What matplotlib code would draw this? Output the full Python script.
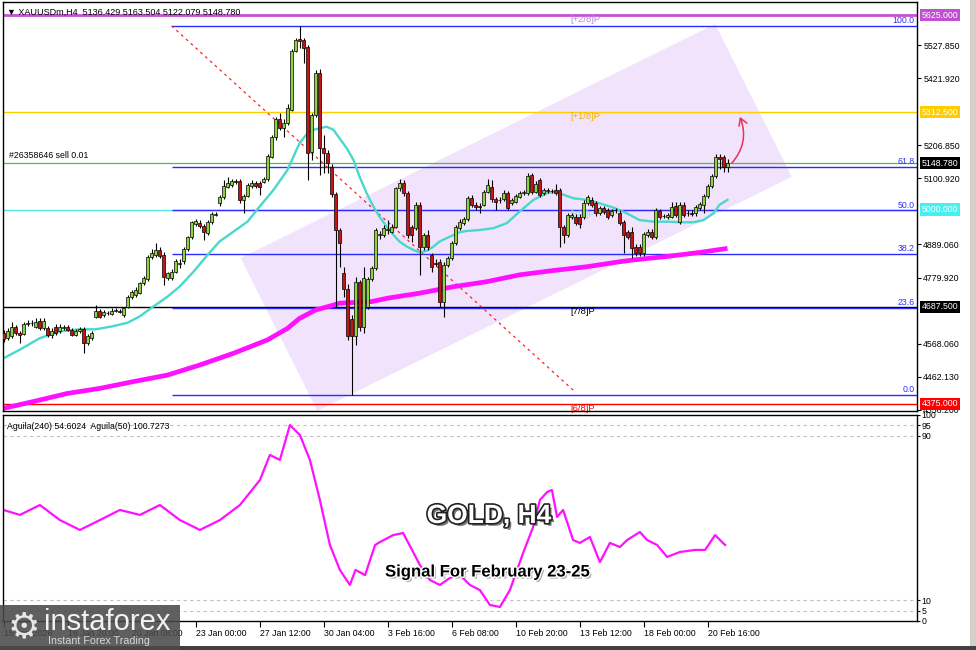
import matplotlib
matplotlib.use('Agg')
import matplotlib.pyplot as plt
import matplotlib.patheffects as pe
import matplotlib.transforms as mtransforms
from matplotlib.patches import Polygon, Rectangle
import numpy as np

plt.rcParams['font.family'] = ['Liberation Sans', 'DejaVu Sans']

# ---------------- data ----------------
opens = [4602, 4586, 4592, 4621, 4602, 4600, 4632, 4636, 4624, 4642,
         4618, 4618, 4597, 4624, 4608, 4620, 4622, 4613, 4597, 4608,
         4615, 4572, 4586, 4656, 4674, 4661, 4666, 4664, 4675, 4674,
         4661, 4686, 4718, 4725, 4733, 4763, 4776, 4846, 4854, 4870,
         4854, 4779, 4779, 4800, 4826, 4833, 4872, 4911, 4953, 4956,
         4947, 4924, 4961, 4983, 5020, 5039, 5073, 5079, 5090, 5092,
         5031, 5044, 5076, 5084, 5086, 5089, 5097, 5170, 5234, 5291,
         5261, 5277, 5320, 5510, 5547, 5545, 5523, 5186, 5304, 5438,
         5197, 5181, 5138, 5050, 4934, 4795, 4744, 4647, 4592, 4768,
         4624, 4688, 4776, 4811, 4918, 4918, 4934, 4929, 4945, 5068,
         5084, 5052, 4945, 4940, 5015, 4881, 4918, 4854, 4828, 4832,
         4704, 4822, 4843, 4891, 4940, 4956, 4968, 5036, 5015, 5010,
         5015, 5057, 5073, 5033, 5030, 5033, 5054, 5020, 5025, 5041,
         5054, 5054, 5111, 5057, 5095, 5052, 5060, 5058, 5063, 5063,
         4945, 4918, 4977, 4977, 4977, 4977, 5022, 5031, 5020, 4988,
         5004, 4998, 4982, 4998, 4990, 4961, 4929, 4929, 4881, 4881,
         4859, 4918, 4929, 4913, 4996, 4980, 4975, 4977, 5011, 4961,
         5015, 4990, 4988, 4988, 5004, 5015, 5043, 5076, 5108, 5170,
         5168, 5136.429]
closes = [4583, 4608, 4624, 4602, 4598, 4632, 4636, 4634, 4640, 4618,
          4642, 4597, 4608, 4602, 4624, 4622, 4614, 4597, 4608, 4615,
          4572, 4594, 4602, 4674, 4656, 4672, 4668, 4675, 4676, 4672,
          4683, 4720, 4736, 4741, 4763, 4779, 4848, 4859, 4870, 4849,
          4782, 4795, 4800, 4836, 4828, 4872, 4911, 4959, 4963, 4947,
          4929, 4961, 4986, 4985, 5039, 5076, 5086, 5092, 5089, 5031,
          5044, 5079, 5084, 5076, 5073, 5097, 5172, 5234, 5290, 5261,
          5277, 5325, 5510, 5545, 5543, 5518, 5181, 5304, 5438, 5197,
          5181, 5148, 5050, 4934, 4891, 4744, 4592, 4592, 4768, 4624,
          4779, 4776, 4811, 4934, 4920, 4940, 4936, 4945, 5068, 5084,
          5052, 4918, 4918, 5015, 4881, 4918, 4881, 4816, 4826, 4704,
          4822, 4843, 4891, 4943, 4961, 4968, 5036, 5015, 5007, 5009,
          5057, 5079, 5033, 5025, 5031, 5054, 5004, 5031, 5044, 5054,
          5055, 5108, 5057, 5082, 5047, 5063, 5061, 5059, 5052, 4945,
          4918, 4982, 4982, 4956, 4954, 5022, 5041, 5015, 4988, 5004,
          4993, 4977, 4996, 4999, 4956, 4918, 4913, 4875, 4859, 4859,
          4921, 4929, 4913, 4999, 4977, 4979, 4982, 5009, 4982, 5015,
          4982, 4989, 4987, 5007, 5018, 5043, 5076, 5108, 5168, 5161,
          5138, 5148.780]
highs = [4613, 4618, 4640, 4629, 4610, 4640, 4645, 4645, 4650, 4650,
         4652, 4625, 4618, 4632, 4632, 4630, 4630, 4620, 4615, 4622,
         4622, 4600, 4608, 4693, 4680, 4678, 4674, 4682, 4683, 4680,
         4688, 4724, 4742, 4750, 4768, 4786, 4853, 4873, 4891, 4880,
         4864, 4800, 4808, 4842, 4840, 4878, 4916, 4964, 4970, 4966,
         4955, 4966, 4992, 4992, 5045, 5095, 5106, 5098, 5098, 5098,
         5050, 5084, 5095, 5092, 5092, 5103, 5178, 5240, 5297, 5310,
         5290, 5339, 5516, 5550, 5590, 5552, 5530, 5310, 5448, 5450,
         5240, 5190, 5145, 5055, 4940, 4816, 4760, 4660, 4784, 4775,
         4816, 4784, 4818, 4940, 4932, 4950, 4966, 4955, 5073, 5097,
         5095, 5060, 4950, 5023, 5023, 4925, 4935, 4860, 4840, 4840,
         4830, 4850, 4898, 4950, 4970, 4976, 5042, 5046, 5023, 5020,
         5063, 5097, 5095, 5040, 5040, 5062, 5060, 5037, 5050, 5060,
         5062, 5118, 5118, 5090, 5100, 5070, 5068, 5065, 5082, 5070,
         4950, 4988, 4990, 4985, 4985, 5030, 5048, 5040, 5028, 5012,
         5010, 5004, 5002, 5006, 5000, 4966, 4935, 4945, 4890, 4888,
         4928, 4936, 4936, 5006, 5002, 4986, 4990, 5025, 5025, 5025,
         5025, 5000, 4998, 5015, 5025, 5050, 5082, 5114, 5178, 5178,
         5176, 5163.504]
lows = [4575, 4581, 4586, 4597, 4570, 4597, 4627, 4627, 4618, 4612,
        4612, 4590, 4586, 4597, 4602, 4614, 4608, 4592, 4592, 4602,
        4538, 4565, 4580, 4650, 4650, 4656, 4660, 4660, 4670, 4667,
        4656, 4682, 4712, 4720, 4728, 4756, 4771, 4840, 4848, 4844,
        4757, 4772, 4773, 4795, 4811, 4826, 4866, 4906, 4948, 4940,
        4902, 4918, 4955, 4978, 5012, 5033, 5068, 5073, 5082, 5020,
        4990, 5039, 5070, 5070, 5047, 5084, 5092, 5164, 5222, 5255,
        5234, 5272, 5315, 5505, 5520, 5470, 5095, 5160, 5298, 5111,
        5116, 5116, 5040, 4688, 4816, 4720, 4580, 4404, 4565, 4610,
        4602, 4680, 4770, 4805, 4905, 4912, 4920, 4924, 4940, 5060,
        5044, 4910, 4895, 4934, 4790, 4870, 4870, 4800, 4818, 4688,
        4656, 4816, 4838, 4886, 4934, 4950, 4962, 5008, 5000, 4988,
        5010, 5052, 5025, 5000, 5022, 5028, 4998, 5014, 5020, 5036,
        5048, 5048, 5050, 5052, 5040, 5046, 5054, 5052, 5046, 4880,
        4892, 4912, 4970, 4950, 4940, 4970, 5015, 5008, 4980, 4982,
        4986, 4970, 4975, 4990, 4950, 4859, 4905, 4843, 4852, 4850,
        4852, 4912, 4906, 4906, 4970, 4972, 4970, 4972, 4976, 4955,
        4975, 4980, 4980, 4980, 4998, 4988, 5038, 5070, 5102, 5130,
        5120, 5122.079]

# fast moving average (cyan): bar position, price
ma_fast_x = [0, 4, 9, 14, 19, 23, 27, 31, 34, 38, 41, 44, 47.5, 51, 54, 57.5, 61, 64,
             67.5, 71, 72.5, 74, 76, 77.5, 79, 80.8, 82.5, 84, 85.8, 87.5, 89, 90.8,
             92.5, 94, 95.8, 97.5, 99, 100.8, 102.5, 104, 105.8, 107.5, 109, 110.8,
             112.5, 114, 115.8, 119, 122.5, 125.8, 129, 132.5, 135.8, 137.5, 139,
             142.5, 145.8, 149, 152.5, 155.8, 159, 162.5, 165.8, 169, 172.5, 175,
             177.5, 179, 181]
ma_fast_y = [4522, 4549, 4586, 4608, 4615, 4615, 4624, 4636, 4656, 4693, 4720, 4752,
             4800, 4854, 4897, 4929, 4961, 5009, 5063, 5127, 5170, 5213, 5245, 5256,
             5261, 5266, 5256, 5229, 5197, 5159, 5106, 5052, 5009, 4977, 4945, 4918,
             4897, 4881, 4870, 4862, 4867, 4881, 4897, 4908, 4918, 4927, 4931, 4934,
             4940, 4956, 4993, 5031, 5052, 5057, 5052, 5036, 5031, 5020, 5006, 4988,
             4966, 4961, 4961, 4959, 4959, 4966, 4988, 5015, 5031]
# slow moving average (magenta)
ma_slow_x = [0, 7.5, 16, 24, 32.5, 41, 49, 57.5, 66, 71, 74, 78, 82.5, 84, 92, 96,
             104, 112.5, 120.8, 129, 137.5, 145.8, 154, 157.5, 165.8, 174, 181]
ma_slow_y = [4361, 4383, 4409, 4425, 4447, 4468, 4500, 4538, 4581, 4618, 4650, 4677,
             4693, 4699, 4704, 4715, 4731, 4752, 4768, 4790, 4804, 4816, 4832, 4838,
             4849, 4862, 4875]

# Aguila oscillator (lower pane)
osc_x = [0, 4.1, 9.1, 14.1, 19.1, 24.1, 29.1, 34.1, 39.1, 44.1, 49.1, 54.1, 59.1, 64.1,
         66.6, 69.1, 71.6, 74.1, 76.6, 79.1, 81.6, 84.1, 86.6, 88, 90.4, 92.9, 94.1,
         97.4, 99.9, 102.4, 104.1, 106.6, 109.1, 111.6, 114.1, 116.6, 119.1, 121.6,
         124.1, 126.6, 129.9, 132.4, 134.1, 135.9, 137.1, 138.4, 139.9, 142.4, 144.1,
         146.6, 149.1, 151.6, 154.1, 155.9, 159.1, 160.9, 163.4, 165.9, 169.1, 172.9,
         175.4, 177.9, 180.4]
osc_y = [53.9, 51.5, 56.3, 49, 44.2, 49, 53.9, 51.5, 56.3, 49, 44.2, 49, 56.3, 68.4,
         80.6, 78.2, 95.1, 90.3, 78.2, 58.7, 36.9, 24.8, 17.5, 24.8, 22.3, 36.9, 38.3,
         41.7, 42.7, 33.5, 27.2, 19.9, 17.5, 20.9, 22.3, 17.5, 15, 7.8, 6.8, 15, 33,
         45.6, 58.7, 62.6, 63.6, 50.5, 53.9, 39.3, 37.9, 40.8, 28.6, 37.9, 35.9, 39.3,
         43.2, 39.3, 36.9, 31.1, 33.5, 34.5, 34.5, 41.7, 36.9]

# levels
murrey_levels = [5625.0, 5312.5, 5000.0, 4687.5, 4375.0]
murrey_names = ['[+2/8]P', '[+1/8]P', '[8/8]P', '[7/8]P', '[6/8]P']
murrey_colors = ['#c84fd8', '#ffcc00', '#55e6e6', '#000000', '#ff0000']
murrey_text_colors = ['#c080e8', '#f0b000', '#7ee0e8', '#000000', '#ff0000']
fib_high, fib_low = 5590.0, 4404.0
fib_ratios = [0.0, 23.6, 38.2, 50.0, 61.8, 100.0]
fib_start = 42
fib_line_end = 142.9
sell_price = 5148.6
last_price = 5148.780
price_ticks = [5527.850, 5421.920, 5206.850, 5100.920, 4889.060, 4779.920, 4568.060,
               4462.130, 4356.200]
time_pos = [0, 16, 32, 48, 64, 80, 96, 112, 128, 144, 160, 176]
time_labels = ['15 Jan 2026', '16 Jan 20:00', '20 Jan 08:00', '23 Jan 00:00',
               '27 Jan 12:00', '30 Jan 04:00', '3 Feb 16:00', '6 Feb 08:00',
               '10 Feb 20:00', '13 Feb 12:00', '18 Feb 00:00', '20 Feb 16:00']
channel_corners = [(59.3, 4844), (177.9, 5596), (197.05, 5105), (78.45, 4353)]
arrow_from = (182.05, 5148.5)
arrow_to = (184.1, 5298)
osc_levels = [95, 90, 10, 5]
osc_ticks = [100, 95, 90, 10, 5, 0]

# ---------------- figure ----------------
W, H = 976, 650
fig = plt.figure(figsize=(W / 100, H / 100), dpi=100)
fig.patch.set_facecolor('white')
FS = 6.3

ax = fig.add_axes([3 / W, 1 - 411 / H, 914 / W, 409 / H])
ax2 = fig.add_axes([3 / W, 1 - 621 / H, 914 / W, 206 / H])
XL = (-0.125, 228.375)
for a in (ax, ax2):
    a.set_xlim(*XL)
    for s in a.spines.values():
        s.set_color('black')
        s.set_linewidth(1.0)
ax.set_ylim(4352.5, 5666.8)
ax2.set_ylim(0, 100)

# channel
ax.add_patch(Polygon(channel_corners, closed=True, fc='#f2e3fc', ec='none', zorder=0.5))

# murrey lines
for lv, c, nm, tc in zip(murrey_levels, murrey_colors, murrey_names, murrey_text_colors):
    ax.axhline(lv, color=c, lw=2.0 if lv == 5625.0 else 1.0, zorder=1)
    ax.text(141.6, lv, nm, ha='left', va='top', fontsize=6.8, color=tc, zorder=1.5)

# sell order line
ax.axhline(sell_price, color='#4cbf4c', lw=0.9, zorder=1)
ax.text(1.4, sell_price + 12, '#26358646 sell 0.01', ha='left', va='bottom',
        fontsize=FS, color='black', zorder=3)

# fibonacci
rng = fib_high - fib_low
for r in fib_ratios:
    lv = fib_low + r / 100 * rng
    ax.hlines(lv, fib_start, XL[1], color='#2b2bff', lw=1.0, zorder=1.2)
    ax.text(XL[1] - 0.6, lv + 2, f'{r:.1f}', ha='right', va='bottom', fontsize=FS,
            color='#3030ff', zorder=3)
ax.plot([fib_start, fib_line_end], [fib_high, fib_low + 10], color='#ff2020', lw=0.9,
        ls=(0, (2.2, 3.0)), zorder=1.3)

# moving averages
ax.plot(ma_slow_x, ma_slow_y, color='#ff10ff', lw=3.4, solid_capstyle='butt', zorder=2)
ax.plot(ma_fast_x, ma_fast_y, color='#48d8cc', lw=1.7, zorder=2)

# candles
o = np.array(opens, float); c = np.array(closes, float)
h = np.array(highs, float); l = np.array(lows, float)
idx = np.arange(len(o))
ax.vlines(idx, l, h, color='black', lw=0.8, zorder=3)
up = c >= o
body_lo = np.minimum(o, c)
body_h = np.maximum(np.abs(c - o), 1.2)
ax.bar(idx[up], body_h[up], bottom=body_lo[up], width=0.62, color='#8fd13f',
       edgecolor='black', linewidth=0.5, zorder=4)
ax.bar(idx[~up], body_h[~up], bottom=body_lo[~up], width=0.62, color='#c41414',
       edgecolor='black', linewidth=0.5, zorder=4)

# arrow
ax.annotate('', xy=arrow_to, xytext=arrow_from,
            arrowprops=dict(arrowstyle='->,head_length=0.5,head_width=0.3', color='#e8324f',
                            lw=1.1, connectionstyle='arc3,rad=0.3', shrinkA=0, shrinkB=0),
            zorder=5)

# price axis
ax.set_xticks([])
ax.yaxis.tick_right()
ax.set_yticks(price_ticks)
ax.set_yticklabels([f'{v:.3f}' for v in price_ticks], fontsize=FS)
ax.tick_params(axis='y', direction='out', length=3, width=0.8, pad=1.5)

tr = mtransforms.blended_transform_factory(ax.transAxes, ax.transData)
box_vals = [5625.0, 5312.5, last_price, 5000.0, 4687.5, 4375.0]
box_cols = ['#c050d0', '#ffcc00', '#000000', '#44f0f0', '#000000', '#ff0000']
for v, bc in zip(box_vals, box_cols):
    ax.annotate(f'{v:.3f}', xy=(1, v), xycoords=tr, xytext=(3.2, 0),
                textcoords='offset points', ha='left', va='center', fontsize=FS,
                color='white', annotation_clip=False, zorder=10,
                bbox=dict(boxstyle='square,pad=0.18', fc=bc, ec='none'))

# header
ax.text(0.004, 0.985, '\u25BC XAUUSDm,H4  5136.429 5163.504 5122.079 5148.780',
        transform=ax.transAxes, ha='left', va='top', fontsize=6.5, color='black', zorder=6)

# ---------------- oscillator pane ----------------
for lv in osc_levels:
    ax2.axhline(lv, color='#c0c0c0', lw=0.8, ls=(0, (3, 3)), zorder=1)
ax2.plot(osc_x, osc_y, color='#ff10ff', lw=1.6, zorder=2)
ax2.yaxis.tick_right()
ax2.set_yticks(osc_ticks)
ax2.set_yticklabels([str(t) for t in osc_ticks], fontsize=FS)
ax2.tick_params(axis='y', direction='out', length=2, width=0.8, pad=1)
ax2.set_xticks(time_pos)
ax2.set_xticklabels(time_labels, fontsize=FS)
for t in ax2.get_xticklabels():
    t.set_ha('left')
ax2.tick_params(axis='x', direction='out', length=4, width=0.8, pad=2)
ax2.text(0.004, 0.965, 'Aguila(240) 54.6024  Aguila(50) 100.7273', transform=ax2.transAxes,
         ha='left', va='top', fontsize=FS, color='black', zorder=6)

# titles
fig.text(489 / W, 1 - 516 / H, 'GOLD, H4', ha='center', va='center', fontsize=19,
         fontweight='bold', color='white',
         path_effects=[pe.withSimplePatchShadow(offset=(2, -2), shadow_rgbFace='#555555', alpha=0.8),
                       pe.Stroke(linewidth=2.4, foreground='#222222'), pe.Normal()])
fig.text(487 / W, 1 - 572 / H, 'Signal For February 23-25', ha='center', va='center',
         fontsize=12, fontweight='bold', color='black',
         path_effects=[pe.withSimplePatchShadow(offset=(1.5, -1.5), shadow_rgbFace='#888888', alpha=0.7),
                       pe.Stroke(linewidth=2.0, foreground='white'), pe.Normal()])

# logo
fig.patches.append(Rectangle((0, 0), 180 / W, 45 / H, transform=fig.transFigure,
                             fc='#4a4a4a', ec='none', alpha=0.88, zorder=20))
fig.text(24 / W, 1 - 627 / H, '\u2699', ha='center', va='center', fontsize=26,
         color='#e6e6e6', family='DejaVu Sans', zorder=21)
fig.text(44 / W, 1 - 622 / H, 'instaforex', ha='left', va='center', fontsize=21,
         color='#f2f2f2', zorder=21)
fig.text(48 / W, 1 - 641 / H, 'Instant Forex Trading', ha='left', va='center',
         fontsize=7.7, color='#d8d8d8', zorder=21)

# window frame
fig.patches.append(Rectangle((970 / W, 0), 6 / W, 1, transform=fig.transFigure,
                             fc='#d4d0c8', ec='none', zorder=0))
fig.patches.append(Rectangle((0, 0), 1, 4 / H, transform=fig.transFigure,
                             fc='#404040', ec='none', zorder=0))

fig.savefig('out.png', dpi=100)
